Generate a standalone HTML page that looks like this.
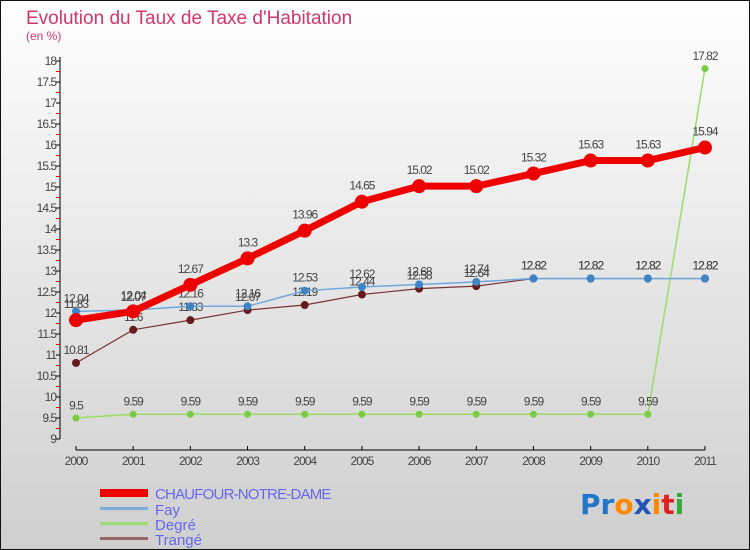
<!DOCTYPE html>
<html><head><meta charset="utf-8"><style>
body{margin:0;width:750px;height:550px;overflow:hidden;font-family:"Liberation Sans",sans-serif}
svg{display:block}
</style></head><body>
<svg id="chart" width="750" height="550" xmlns="http://www.w3.org/2000/svg">
<defs><linearGradient id="bg" x1="0" y1="0" x2="0" y2="1"><stop offset="0" stop-color="#fefefe"/><stop offset="1" stop-color="#cfcfcf"/></linearGradient></defs>
<rect x="0.5" y="0.5" width="749" height="549" fill="url(#bg)" stroke="#111"/>
<text x="26" y="24" font-size="19" fill="#d0386a">Evolution du Taux de Taxe d'Habitation</text>
<text x="26" y="40" font-size="12" fill="#d0386a">(en %)</text>
<g id="axes"></g>
<g id="series"></g>
<g font-size="15" fill="#6666ee">
<rect x="100" y="489" width="48" height="8" fill="#ee0000"/>
<text x="155" y="499" letter-spacing="-0.8">CHAUFOUR-NOTRE-DAME</text>
<rect x="100" y="507" width="48" height="3" fill="#7aaed8"/>
<text x="155" y="515">Fay</text>
<rect x="100" y="522" width="48" height="3" fill="#99dd77"/>
<text x="155" y="530">Degré</text>
<rect x="100" y="537" width="48" height="3" fill="#996666"/>
<text x="155" y="545">Trangé</text>
</g>
<g font-size="28" font-weight="bold" font-family="'DejaVu Sans',sans-serif">
<text x="580" y="514"><tspan fill="#2277cc">P</tspan><tspan fill="#2277cc">r</tspan><tspan fill="#ff8800">o</tspan><tspan fill="#2255bb">x</tspan><tspan fill="#ff8800">i</tspan><tspan fill="#dd2222">t</tspan><tspan fill="#33aa33">i</tspan></text>
</g>
</svg>
<script>
const years=["2000","2001","2002","2003","2004","2005","2006","2007","2008","2009","2010","2011"];
const yTicks=[9,9.5,10,10.5,11,11.5,12,12.5,13,13.5,14,14.5,15,15.5,16,16.5,17,17.5,18];
const chaufour=[11.83,12.04,12.67,13.3,13.96,14.65,15.02,15.02,15.32,15.63,15.63,15.94];
const fay=[12.04,12.07,12.16,12.16,12.53,12.62,12.68,12.74,12.82,12.82,12.82,12.82];
const degre=[9.5,9.59,9.59,9.59,9.59,9.59,9.59,9.59,9.59,9.59,9.59,17.82];
const trange=[10.81,11.6,11.83,12.07,12.19,12.44,12.58,12.64,12.82,12.82,12.82,12.82];
const NS="http://www.w3.org/2000/svg";
const X=i=>76+i*(705-76)/11;
const Y=v=>439-(v-9)*42;
function mk(p,t,a){const e=document.createElementNS(NS,t);for(const k in a)e.setAttribute(k,a[k]);p.appendChild(e);return e;}
const ax=document.getElementById('axes');
const yl=mk(ax,'line',{x1:60,y1:Y(18)-4,x2:60,y2:Y(9),stroke:'#000'});


yTicks.forEach(v=>{
 mk(ax,'line',{x1:56,y1:Y(v),x2:60,y2:Y(v),stroke:'#000'});
 if(v<18)mk(ax,'line',{x1:56,y1:Y(v+0.25),x2:60,y2:Y(v+0.25),stroke:'#e00'});
 const t=mk(ax,'text',{x:56,y:Y(v)+4,'font-size':12,'text-anchor':'end',fill:'#444','letter-spacing':'-1'});
 t.textContent=v;
 
 
});
const xl=mk(ax,'line',{x1:76,y1:450,x2:705,y2:450,stroke:'#000'});


years.forEach((y,i)=>{
 mk(ax,'line',{x1:X(i),y1:446,x2:X(i),y2:450,stroke:'#000'});
 const t=mk(ax,'text',{x:X(i),y:465,'font-size':12,'text-anchor':'middle',fill:'#444','letter-spacing':'-1'});
 t.textContent=y;
 
 
});
const sg=document.getElementById('series');
function series(name,data,color,dot,w,r){
 const g=mk(sg,'g',{});
 
 
 const pl=mk(g,'polyline',{points:data.map((v,i)=>X(i)+','+Y(v)).join(' '),fill:'none',stroke:color,'stroke-width':w,'stroke-linejoin':'round'});
 
 
 data.forEach((v,i)=>{
  const c=mk(g,'circle',{cx:X(i),cy:Y(v),r:r,fill:dot});
  
  
  const t=mk(g,'text',{x:X(i),y:Y(v)-r-5,'font-size':12,'text-anchor':'middle',fill:'#444','letter-spacing':'-1'});
  t.textContent=v;
  
  
 });
}
series('degre',degre,'#99dd66','#77cc44',1.5,3.5);
series('trange',trange,'#773333','#661a1a',1.2,4);
series('fay',fay,'#6fa8dc','#3d85c6',1.5,4);
series('chaufour',chaufour,'#ee0000','#ee0000',7,7);
</script>
</body></html>
